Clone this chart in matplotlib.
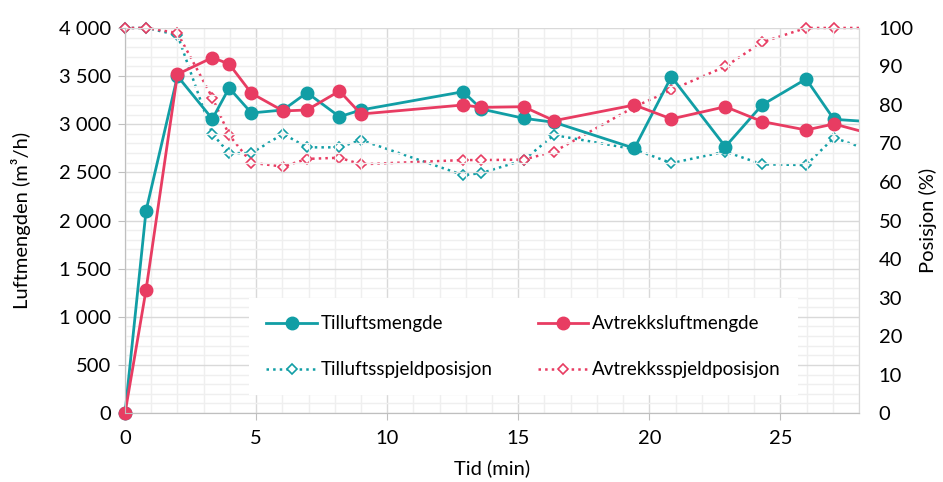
import numpy as np
import matplotlib.pyplot as plt
from matplotlib.patches import Rectangle
from matplotlib.ticker import MultipleLocator, FuncFormatter

plt.rcParams['font.family'] = ['Lato', 'DejaVu Sans']
FS = 14.5

# --- Måledata ---
tid = [0, 0.8, 2.0, 3.33, 3.97, 4.82, 6.03, 6.94, 8.18, 9.0, 12.9, 13.59,
       15.2, 16.37, 19.43, 20.84, 22.9, 24.3, 25.98, 27.04, 28.9]
tilluft = [0, 2100, 3500, 3055, 3377, 3117, 3148, 3328, 3078, 3148, 3338, 3158,
           3062, 3020, 2750, 3494, 2767, 3200, 3470, 3051, 3018]
avtrekk = [0, 1278, 3519, 3692, 3626, 3322, 3138, 3148, 3345, 3106, 3200, 3175,
           3182, 3037, 3200, 3055, 3182, 3028, 2940, 3003, 2868]
tilluft_spjeld = [100, 100, 98.2, 72.5, 67.5, 67.5, 72.5, 69, 69, 70.9, 61.8, 62.3,
                  65.7, 72.2, 68.5, 64.9, 67.9, 64.6, 64.4, 71.5, 67.1]
avtrekk_spjeld = [100, 100, 98.7, 81.9, 72.2, 65, 64, 66, 66.3, 64.6, 65.7, 65.7,
                  65.8, 67.9, 79.5, 83.9, 90, 96.3, 100, 100, 100]

teal = '#119EA5'
rod = '#E83C62'

fig, ax = plt.subplots(figsize=(9.43, 4.82), dpi=100)
fig.subplots_adjust(left=0.1326, right=0.911, top=0.942, bottom=0.143)
ax2 = ax.twinx()

# solid linjer skal ligge over de prikkete
ax.set_zorder(ax2.get_zorder() + 1)
ax.patch.set_visible(False)

l3, = ax2.plot(tid, tilluft_spjeld, color=teal, lw=1.8, linestyle=':',
               marker='D', markersize=5.5, markerfacecolor='white',
               markeredgewidth=1.2, label='Tilluftsspjeldposisjon')
l4, = ax2.plot(tid, avtrekk_spjeld, color=rod, lw=1.8, linestyle=':',
               marker='D', markersize=5.5, markerfacecolor='white',
               markeredgewidth=1.2, label='Avtrekksspjeldposisjon')
l1, = ax.plot(tid, tilluft, color=teal, lw=2, marker='o', markersize=9,
              label='Tilluftsmengde')
l2, = ax.plot(tid, avtrekk, color=rod, lw=2, marker='o', markersize=9,
              label='Avtrekksluftmengde')

# klipp bare mot høyre kant, så markørene ved 0 og 100 % vises hele
for a, lines in ((ax2, (l3, l4)), (ax, (l1, l2))):
    clip = Rectangle((-0.05, -0.05), 1.05, 1.1, transform=a.transAxes,
                     facecolor='none', edgecolor='none')
    a.add_patch(clip)
    for ln in lines:
        ln.set_clip_path(clip)

ax.set_xlim(0, 28)
ax.set_ylim(0, 4000)
ax2.set_ylim(0, 100)

ax.xaxis.set_major_locator(MultipleLocator(5))
ax.xaxis.set_minor_locator(MultipleLocator(1))
ax.yaxis.set_major_locator(MultipleLocator(500))
ax.yaxis.set_minor_locator(MultipleLocator(100))
ax2.yaxis.set_major_locator(MultipleLocator(10))
ax.yaxis.set_major_formatter(FuncFormatter(lambda v, p: f'{v:,.0f}'.replace(',', ' ')))

ax.grid(which='major', color='#D9D9D9', lw=1)
ax.grid(which='minor', color='#EFEFEF', lw=1)
ax.set_axisbelow(True)

for a in (ax, ax2):
    a.spines['top'].set_visible(False)
    a.spines['left'].set_color('#BFBFBF')
    a.spines['bottom'].set_color('#BFBFBF')
    a.spines['right'].set_color('#D9D9D9')

ax.tick_params(axis='both', which='major', length=5, color='#BFBFBF',
               labelsize=FS, labelcolor='#000000')
ax.tick_params(which='minor', length=0)
ax.tick_params(axis='y', pad=5)
ax.tick_params(axis='x', pad=7)
ax2.tick_params(axis='y', length=0, labelsize=FS, pad=14)

ax.set_xlabel('Tid (min)', fontsize=FS, labelpad=9)
ax.set_ylabel('Luftmengden (m³/h)', fontsize=FS, labelpad=20)
ax2.set_ylabel('Posisjon (%)', fontsize=FS, labelpad=4)

leg = ax.legend(handles=[l1, l3, l2, l4], ncol=2, loc='upper left',
                bbox_to_anchor=(0.1567, 0.322), fontsize=13.5, frameon=True,
                fancybox=False, framealpha=1, edgecolor='none',
                handlelength=2.7, handletextpad=0.2, columnspacing=2.4,
                labelspacing=1.55, borderpad=0.9)
leg.get_frame().set_facecolor('white')

plt.savefig('out.png', dpi=100)
